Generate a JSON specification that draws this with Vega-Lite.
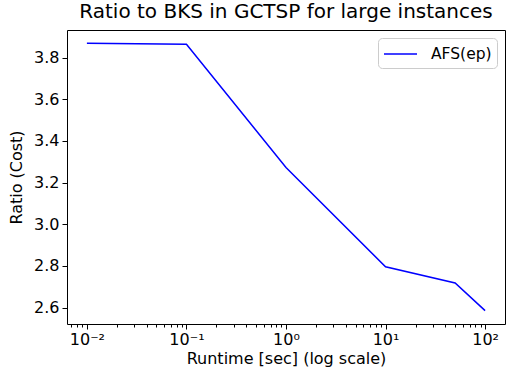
{
  "$schema": "https://vega.github.io/schema/vega-lite/v6.json",
  "width": 438,
  "height": 294,
  "autosize": {"type": "none"},
  "padding": {"left": 67, "top": 30, "right": 5, "bottom": 44},
  "background": "white",
  "title": {"text": "Ratio to BKS in GCTSP for large instances", "font": "DejaVu Sans", "fontSize": 20, "fontWeight": "normal", "color": "black", "anchor": "middle", "offset": 8},
  "config": {"view": {"stroke": "black", "strokeWidth": 1}, "font": "DejaVu Sans"},
  "data": {"values": [
    {"runtime": 0.01, "ratio": 3.868, "series": "AFS(ep)"},
    {"runtime": 0.1, "ratio": 3.864, "series": "AFS(ep)"},
    {"runtime": 1, "ratio": 3.272, "series": "AFS(ep)"},
    {"runtime": 10, "ratio": 2.796, "series": "AFS(ep)"},
    {"runtime": 50, "ratio": 2.718, "series": "AFS(ep)"},
    {"runtime": 100, "ratio": 2.585, "series": "AFS(ep)"}
  ]},
  "mark": {"type": "line", "strokeWidth": 1.5},
  "encoding": {
    "x": {
      "field": "runtime", "type": "quantitative",
      "scale": {"type": "log", "domain": [0.00631, 158.5], "nice": false},
      "axis": {
        "values": [0.007, 0.008, 0.009, 0.01, 0.02, 0.03, 0.04, 0.05, 0.06, 0.07, 0.08, 0.09, 0.1, 0.2, 0.3, 0.4, 0.5, 0.6, 0.7, 0.8, 0.9, 1, 2, 3, 4, 5, 6, 7, 8, 9, 10, 20, 30, 40, 50, 60, 70, 80, 90, 100],
        "labelExpr": "abs(log(datum.value)/LN10 - round(log(datum.value)/LN10)) < 0.000001 ? (round(log(datum.value)/LN10) == -2 ? '10⁻²' : round(log(datum.value)/LN10) == -1 ? '10⁻¹' : round(log(datum.value)/LN10) == 0 ? '10⁰' : round(log(datum.value)/LN10) == 1 ? '10¹' : '10²') : ''",
        "tickSize": {"condition": {"test": "abs(log(datum.value)/LN10 - round(log(datum.value)/LN10)) < 0.000001", "value": 5}, "value": 3},
        "tickColor": "black",
        "tickWidth": 1,
        "domain": false,
        "grid": false,
        "labelFontSize": 16,
        "labelColor": "black",
        "labelPadding": 2,
        "labelFlush": false,
        "labelOverlap": false,
        "title": "Runtime [sec] (log scale)",
        "titleFontSize": 16,
        "titleFontWeight": "normal",
        "titleColor": "black",
        "titlePadding": 3
      }
    },
    "y": {
      "field": "ratio", "type": "quantitative",
      "scale": {"domain": [2.521, 3.932], "nice": false, "zero": false},
      "axis": {
        "values": [2.6, 2.8, 3.0, 3.2, 3.4, 3.6, 3.8],
        "format": ".1f",
        "tickSize": 5,
        "tickColor": "black",
        "domain": false,
        "grid": false,
        "labelFontSize": 16,
        "labelColor": "black",
        "labelPadding": 3,
        "title": "Ratio (Cost)",
        "titleFontSize": 16,
        "titleFontWeight": "normal",
        "titleColor": "black",
        "titlePadding": 9
      }
    },
    "color": {
      "field": "series", "type": "nominal",
      "scale": {"range": ["blue"]},
      "legend": {
        "orient": "top-right",
        "offset": 8,
        "title": null,
        "labelFontSize": 15.5,
        "labelColor": "black",
        "symbolType": "M-1.65,0H1.65",
        "symbolStrokeWidth": 1.5,
        "symbolSize": 400,
        "symbolOffset": 6.5,
        "strokeColor": "#cccccc",
        "fillColor": "white",
        "cornerRadius": 4,
        "padding": 5,
        "labelOffset": 19.5
      }
    }
  }
}
